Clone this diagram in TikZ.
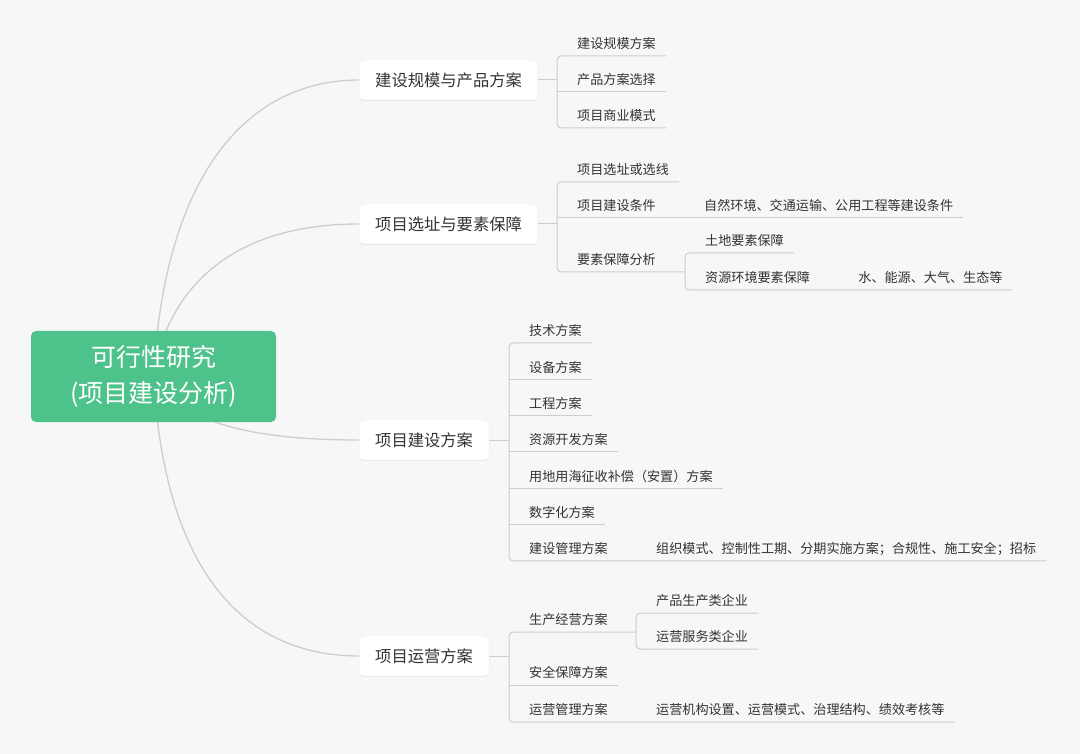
\documentclass[tikz,border=0pt]{standalone}
\usepackage{fontspec}
\setmainfont{Noto Sans CJK SC}
\usepackage{tikz}
\usetikzlibrary{positioning,backgrounds,shadows}
\definecolor{bgcol}{HTML}{F7F7F7}
\definecolor{rootcol}{HTML}{4EC28B}
\definecolor{linecol}{HTML}{CDCDCD}
\definecolor{txtcol}{HTML}{333333}
\tikzset{
  root/.style={fill=rootcol, text=white, rounded corners=5pt,
    minimum width=245pt, minimum height=91pt, align=center,
    font=\fontsize{25}{36}\selectfont},
  topic/.style={anchor=west, fill=white, draw=black!9, rounded corners=4pt,
    minimum height=40pt, inner xsep=16pt, text=txtcol,
    font=\fontsize{16.3}{20}\selectfont,
    drop shadow={shadow xshift=0pt, shadow yshift=-1.2pt, opacity=.10}},
  leaf/.style={anchor=south west, inner sep=0pt, text height=11pt, text depth=7pt,
    text=txtcol, font=\fontsize{13.1}{15}\selectfont,
    execute at begin node=\hspace*{20pt}, execute at end node=\hspace*{10pt}},
  curve/.style={draw=linecol, line width=1.3pt},
  link/.style={draw=linecol, line width=1pt},
  bracket/.style={link, rounded corners=4pt}
}
\begin{document}
\begin{tikzpicture}[x=1pt, y=-1pt,
node distance = 18pt
                        ]
\useasboundingbox (0,0) rectangle (1080,754);
\node[root] (root) at (153.5,376.5) {可行性研究\\(项目建设分析)};
%
\node[topic] (b1) at (359,80)  {建设规模与产品方案};
\node[topic] (b2) at (359,224) {项目选址与要素保障};
\node[topic] (b3) at (359,440) {项目建设方案};
\node[topic] (b4) at (359,656) {项目运营方案};
%
\foreach \t [count=\i] in {建设规模方案, 产品方案选择, 项目商业模式}
    \node[leaf] (a\i) at (557,20+36*\i) {\t};
%
\node[leaf] (c1) at (557,182) {项目选址或选线};
\node[leaf] (c2) at (557,218) {项目建设条件};
\node[leaf] (c3) at (557,272) {要素保障分析};
\node[leaf, right=of c2] (c2a) {自然环境、交通运输、公用工程等建设条件};
\node[leaf] (c3a) at (685,253) {土地要素保障};
\node[leaf] (c3b) at (685,290) {资源环境要素保障};
\node[leaf, right=of c3b] (c3c) {水、能源、大气、生态等};
%
\foreach \t [count=\i] in {技术方案, 设备方案, 工程方案, 资源开发方案,
        用地用海征收补偿（安置）方案, 数字化方案, 建设管理方案}
    \node[leaf] (d\i) at (509,306.7+36.3*\i) {\t};
\node[leaf, right=of d7] (d7a) {组织模式、控制性工期、分期实施方案；合规性、施工安全；招标};
%
\node[leaf] (e1) at (509,632) {生产经营方案};
\node[leaf] (e2) at (509,685) {安全保障方案};
\node[leaf] (e3) at (509,722) {运营管理方案};
\node[leaf] (e1a) at (636,613) {产品生产类企业};
\node[leaf] (e1b) at (636,649) {运营服务类企业};
\node[leaf, right=of e3] (e3a) {运营机构设置、运营模式、治理结构、绩效考核等};
%
\draw[link] (b1.east) -- (b1.east -| a1.south west);
\draw[link] (b2.east) -- (b2.east -| c1.south west);
\draw[link] (b3.east) -- (b3.east -| d1.south west);
\draw[link] (b4.east) -- (b4.east -| e1.south west);
%
\draw[bracket] (a1.south east) -- (a1.south west) -- (a3.south west) -- (a3.south east);
\draw[link] (a2.south west) -- (a2.south east);
%
\draw[bracket] (c1.south east) -- (c1.south west) -- (c3.south west) -- (c3.south -| c3a.south west);
\draw[link] (c2.south west) -- (c2a.south east);
\draw[bracket] (c3a.south east) -- (c3a.south west) -- (c3b.south west) -- (c3c.south east);
%
\draw[bracket] (d1.south east) -- (d1.south west) -- (d7.south west) -- (d7a.south east);
\foreach \i in {2,...,6}
    \draw[link] (d\i.south west) -- (d\i.south east);
%
\draw[bracket] (e1.south -| e1a.south west) -- (e1.south west) -- (e3.south west) -- (e3a.south east);
\draw[link] (e2.south west) -- (e2.south east);
\draw[bracket] (e1a.south east) -- (e1a.south west) -- (e1b.south west) -- (e1b.south east);
%
\begin{scope}[on background layer]
\fill[bgcol] (0,0) rectangle (1080,754);
\draw[curve] (root.center) .. controls (165,170) and (250,80) .. (b1.west);
\draw[curve] (root.center) .. controls (165,300) and (220,224) .. (b2.west);
\draw[curve] (root.center) .. controls (180,425) and (260,440) .. (b3.west);
\draw[curve] (root.center) .. controls (165,580) and (250,656) .. (b4.west);
\end{scope}
\end{tikzpicture}
\end{document}
